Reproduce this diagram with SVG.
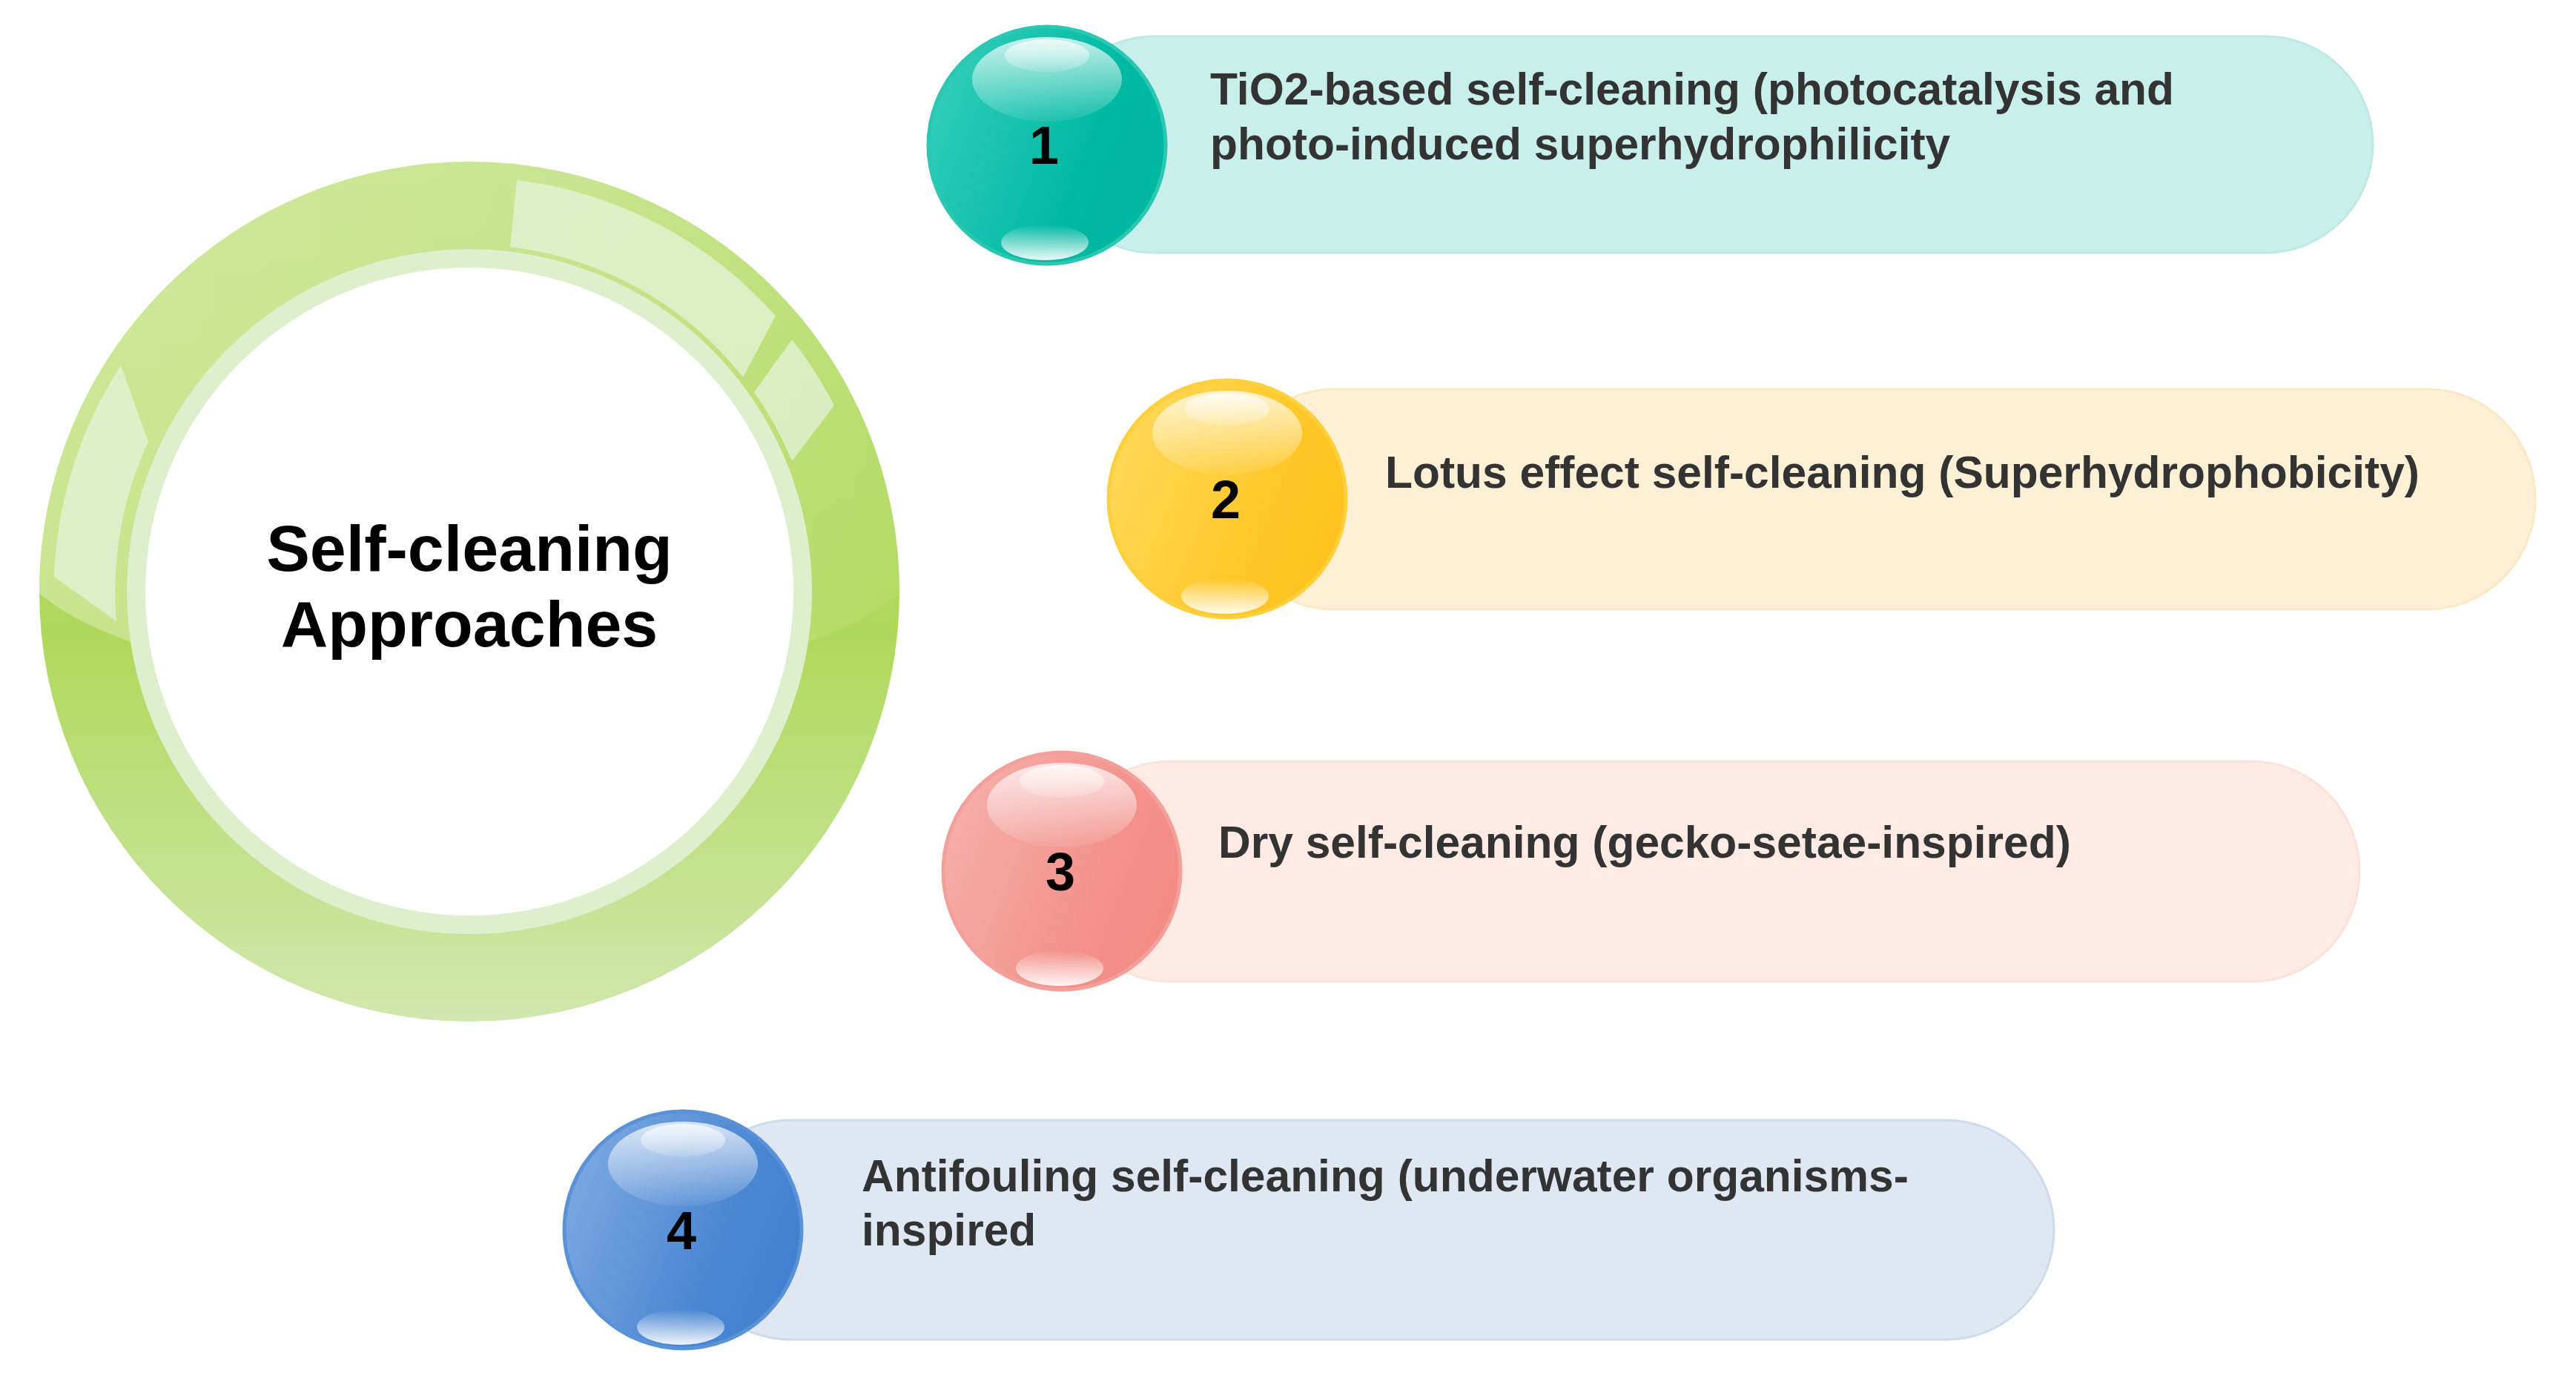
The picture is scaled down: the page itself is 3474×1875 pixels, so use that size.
<svg xmlns="http://www.w3.org/2000/svg" width="3474" height="1875" viewBox="0 0 3474 1875">
<style>
.lbl{font-family:"Liberation Sans",Arial,sans-serif;font-weight:bold;font-size:60.5px;fill:#333333}
.num{font-family:"Liberation Sans",Arial,sans-serif;font-weight:bold;font-size:72px;fill:#000000;text-anchor:middle}
.title{font-family:"Liberation Sans",Arial,sans-serif;font-weight:bold;font-size:88px;fill:#000000;text-anchor:middle}
.hl{fill:#e6f2da;opacity:0.75}
</style>
<defs>
<linearGradient id="ringG" x1="0" y1="0" x2="0" y2="1">
<stop offset="0" stop-color="#b9df72"/>
<stop offset="0.55" stop-color="#afd95b"/>
<stop offset="1" stop-color="#d0e8ae"/>
</linearGradient>
<linearGradient id="glossG" x1="0" y1="0" x2="1" y2="0">
<stop offset="0" stop-color="#ffffff" stop-opacity="0.32"/>
<stop offset="0.6" stop-color="#ffffff" stop-opacity="0.22"/>
<stop offset="1" stop-color="#ffffff" stop-opacity="0.04"/>
</linearGradient>
<clipPath id="ringClip"><path d="M53,798 A580,580 0 1 0 1213,798 A580,580 0 1 0 53,798 Z M171,798 A462,462 0 1 1 1095,798 A462,462 0 1 1 171,798 Z" clip-rule="evenodd"/></clipPath>
<linearGradient id="b1" x1="0" y1="0.2" x2="1" y2="0.6"><stop offset="0" stop-color="#34cebb"/><stop offset="0.7" stop-color="#00b9a2"/><stop offset="1" stop-color="#00b7a0"/></linearGradient>
<linearGradient id="b2" x1="0" y1="0.2" x2="1" y2="0.6"><stop offset="0" stop-color="#ffda5c"/><stop offset="0.7" stop-color="#ffc727"/><stop offset="1" stop-color="#ffc21e"/></linearGradient>
<linearGradient id="b3" x1="0" y1="0.2" x2="1" y2="0.6"><stop offset="0" stop-color="#f6b0ac"/><stop offset="0.7" stop-color="#f3918a"/><stop offset="1" stop-color="#f28c85"/></linearGradient>
<linearGradient id="b4" x1="0" y1="0.2" x2="1" y2="0.6"><stop offset="0" stop-color="#7eaae2"/><stop offset="0.7" stop-color="#4a86d2"/><stop offset="1" stop-color="#4281cf"/></linearGradient>
<linearGradient id="topHL" x1="0" y1="0" x2="0" y2="1"><stop offset="0" stop-color="#ffffff" stop-opacity="0.75"/><stop offset="1" stop-color="#ffffff" stop-opacity="0.07"/></linearGradient>
<linearGradient id="topHL2" x1="0" y1="0" x2="0" y2="1"><stop offset="0" stop-color="#ffffff" stop-opacity="0.7"/><stop offset="1" stop-color="#ffffff" stop-opacity="0.15"/></linearGradient>
<linearGradient id="botHL" x1="0" y1="0" x2="0" y2="1"><stop offset="0" stop-color="#ffffff" stop-opacity="0"/><stop offset="1" stop-color="#ffffff" stop-opacity="0.92"/></linearGradient>
<g id="gloss">
<ellipse cx="0" cy="-89" rx="101" ry="57" fill="url(#topHL)"/>
<ellipse cx="0" cy="-121" rx="57" ry="22" fill="url(#topHL2)"/>
<ellipse cx="-3" cy="131" rx="59" ry="24" fill="url(#botHL)"/>
</g>
</defs>
<rect width="3474" height="1875" fill="#ffffff"/>

<g id="center">
<circle cx="633" cy="798" r="580" fill="url(#ringG)"/>
<path d="M13,729 A620,202 0 0 0 1253,729 V150 H13 Z" fill="url(#glossG)" clip-path="url(#ringClip)"/>
<path class="hl" d="M697,243 A556,556 0 0 1 1046,426 L1002,509 A469,469 0 0 0 688,333 Z"/>
<path class="hl" d="M1068,458 A552,552 0 0 1 1125,547 L1068,622 A469,469 0 0 0 1017,529 Z"/>
<path class="hl" d="M163,493 A560,560 0 0 0 73,778 L157,838 A478,478 0 0 1 200,596 Z"/>
<circle cx="633" cy="798" r="462" fill="#dfeecc"/>
<circle cx="633" cy="798" r="437" fill="#ffffff"/>
<text class="title" x="633" y="770">Self-cleaning</text>
<text class="title" x="633" y="872">Approaches</text>
</g>

<g id="connectors"></g>

<g id="item1">
<rect x="1412" y="49" width="1788" height="292" rx="145" ry="146" fill="#c8efea" stroke="#bfeae4" stroke-width="3"/>
<circle cx="1412" cy="196" r="160" fill="url(#b1)" stroke="#2cc7b3" stroke-width="5"/>
<use href="#gloss" transform="translate(1412,196)"/>
<text class="num" x="1408" y="221">1</text>
<text class="lbl" x="1632" y="141">TiO2-based self-cleaning (photocatalysis and</text>
<text class="lbl" x="1632" y="215">photo-induced superhydrophilicity</text>
</g>

<g id="item2">
<rect x="1654" y="525" width="1765" height="297" rx="145" ry="148" fill="#fdf0d5" stroke="#fbe9c6" stroke-width="3"/>
<circle cx="1655" cy="673" r="160" fill="url(#b2)" stroke="#ffcf3c" stroke-width="5"/>
<use href="#gloss" transform="translate(1655,673)"/>
<text class="num" x="1653" y="699">2</text>
<text class="lbl" x="1868" y="658">Lotus effect self-cleaning (Superhydrophobicity)</text>
</g>

<g id="item3">
<rect x="1432" y="1027" width="1750" height="297" rx="145" ry="148" fill="#ffebe4" stroke="#fde2da" stroke-width="3"/>
<circle cx="1432" cy="1175" r="160" fill="url(#b3)" stroke="#f4a09a" stroke-width="5"/>
<use href="#gloss" transform="translate(1432,1175)"/>
<text class="num" x="1430" y="1201">3</text>
<text class="lbl" x="1643" y="1157">Dry self-cleaning (gecko-setae-inspired)</text>
</g>

<g id="item4">
<rect x="921" y="1511" width="1849" height="296" rx="145" ry="148" fill="#dfe7f3" stroke="#cddbee" stroke-width="3"/>
<circle cx="921" cy="1659" r="160" fill="url(#b4)" stroke="#5a92d8" stroke-width="5"/>
<use href="#gloss" transform="translate(921,1659)"/>
<text class="num" x="919" y="1685">4</text>
<text class="lbl" x="1162" y="1607">Antifouling self-cleaning (underwater organisms-</text>
<text class="lbl" x="1162" y="1680">inspired</text>
</g>
</svg>
